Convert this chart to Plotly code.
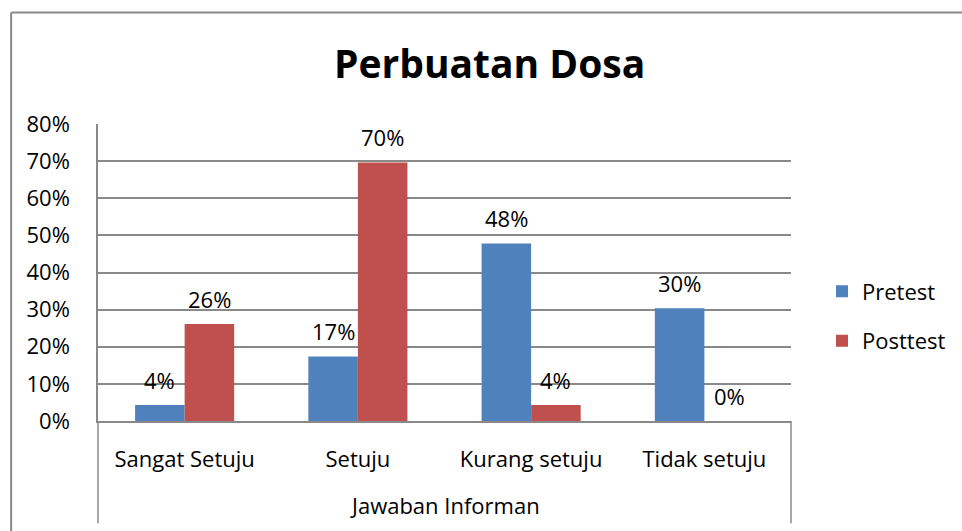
import plotly.graph_objects as go

categories = ["Sangat Setuju", "Setuju", "Kurang setuju", "Tidak setuju"]
pretest = [0.043, 0.174, 0.478, 0.304]
posttest = [0.261, 0.696, 0.043, 0.0]
y_ticks = [0, 0.1, 0.2, 0.3, 0.4, 0.5, 0.6, 0.7, 0.8]
y_tick_labels = ["0%", "10%", "20%", "30%", "40%", "50%", "60%", "70%", "80%"]
title_text = "Perbuatan Dosa"
x_title = "Jawaban Informan"

W, H = 962, 531
L, R, T, B = 98, 792, 123.5, 420.7

def px_x(px):
    return (px - L) / (R - L)

def px_y(py):
    return (B - py) / (B - T)

FONT = "Open Sans"
BLUE = "#4F81BD"
RED = "#C0504D"
GRAY = "#898989"
bargap = 0.428
bw = (1 - bargap) / 2

xs = list(range(len(categories)))

fig = go.Figure()
fig.add_trace(go.Bar(x=xs, y=pretest, name="Pretest", marker=dict(color=BLUE, line=dict(width=0)),
                     legendgroup="a"))
fig.add_trace(go.Bar(x=xs, y=posttest, name="Posttest", marker=dict(color=RED, line=dict(width=0)),
                     legendgroup="b"))

annotations = []
for i, (a, b) in enumerate(zip(pretest, posttest)):
    annotations.append(dict(x=i - bw / 2, y=a, xref="x", yref="y", text=f"{round(a*100):.0f}%",
                            showarrow=False, yanchor="middle", yshift=25.5,
                            font=dict(family=FONT, size=22, color="black")))
    annotations.append(dict(x=i + bw / 2, y=b, xref="x", yref="y", text=f"{round(b*100):.0f}%",
                            showarrow=False, yanchor="middle", yshift=25.5,
                            font=dict(family=FONT, size=22, color="black")))

annotations.append(dict(x=0.5, y=px_y(505), xref="paper", yref="paper", text=x_title,
                        showarrow=False, xanchor="center", yanchor="middle",
                        font=dict(family=FONT, size=22, color="black")))
annotations.append(dict(x=px_x(490), y=px_y(62), xref="paper", yref="paper", text=f"<b>{title_text}</b>",
                        showarrow=False, xanchor="center", yanchor="middle",
                        font=dict(family=FONT, size=39, color="black")))

shapes = [
    dict(type="line", xref="paper", yref="paper", x0=0, x1=0, y0=0, y1=px_y(523),
         line=dict(color=GRAY, width=1.5)),
    dict(type="line", xref="paper", yref="paper", x0=1, x1=1, y0=0, y1=px_y(523),
         line=dict(color=GRAY, width=1.5)),
    dict(type="line", xref="paper", yref="paper", x0=px_x(11), x1=px_x(11), y0=px_y(12), y1=px_y(545),
         line=dict(color=GRAY, width=2)),
    dict(type="line", xref="paper", yref="paper", x0=px_x(11), x1=px_x(975), y0=px_y(12), y1=px_y(12),
         line=dict(color=GRAY, width=2)),
]

fig.update_layout(
    width=W, height=H,
    margin=dict(l=L, r=W - R, t=T, b=H - B, pad=0),
    paper_bgcolor="white", plot_bgcolor="white",
    barmode="group", bargap=bargap, bargroupgap=0,
    font=dict(family=FONT, size=22, color="black"),
    showlegend=True,
    legend=dict(x=px_x(822), y=px_y(270), xanchor="left", yanchor="top",
                font=dict(family=FONT, size=22, color="black"),
                traceorder="grouped", tracegroupgap=18, bgcolor="rgba(0,0,0,0)"),
    annotations=annotations,
    shapes=shapes,
    xaxis=dict(range=[-0.5, 3.5], tickmode="array", tickvals=xs, ticktext=categories,
               showgrid=False, zeroline=False, showline=True, linecolor=GRAY, linewidth=1.5,
               ticks="", ticklabelstandoff=18, tickfont=dict(family=FONT, size=22, color="black"),
               fixedrange=True),
    yaxis=dict(range=[0, 0.8], tickmode="array", tickvals=y_ticks, ticktext=y_tick_labels,
               showgrid=True, gridcolor=GRAY, gridwidth=1.5, zeroline=False,
               showline=True, linecolor=GRAY, linewidth=1.5, ticks="",
               ticklabelstandoff=22, tickfont=dict(family=FONT, size=22, color="black"),
               fixedrange=True),
)

fig.write_html("out.html", config={"displayModeBar": False},
               post_script="document.body.style.margin='0';document.body.style.overflow='hidden';")
